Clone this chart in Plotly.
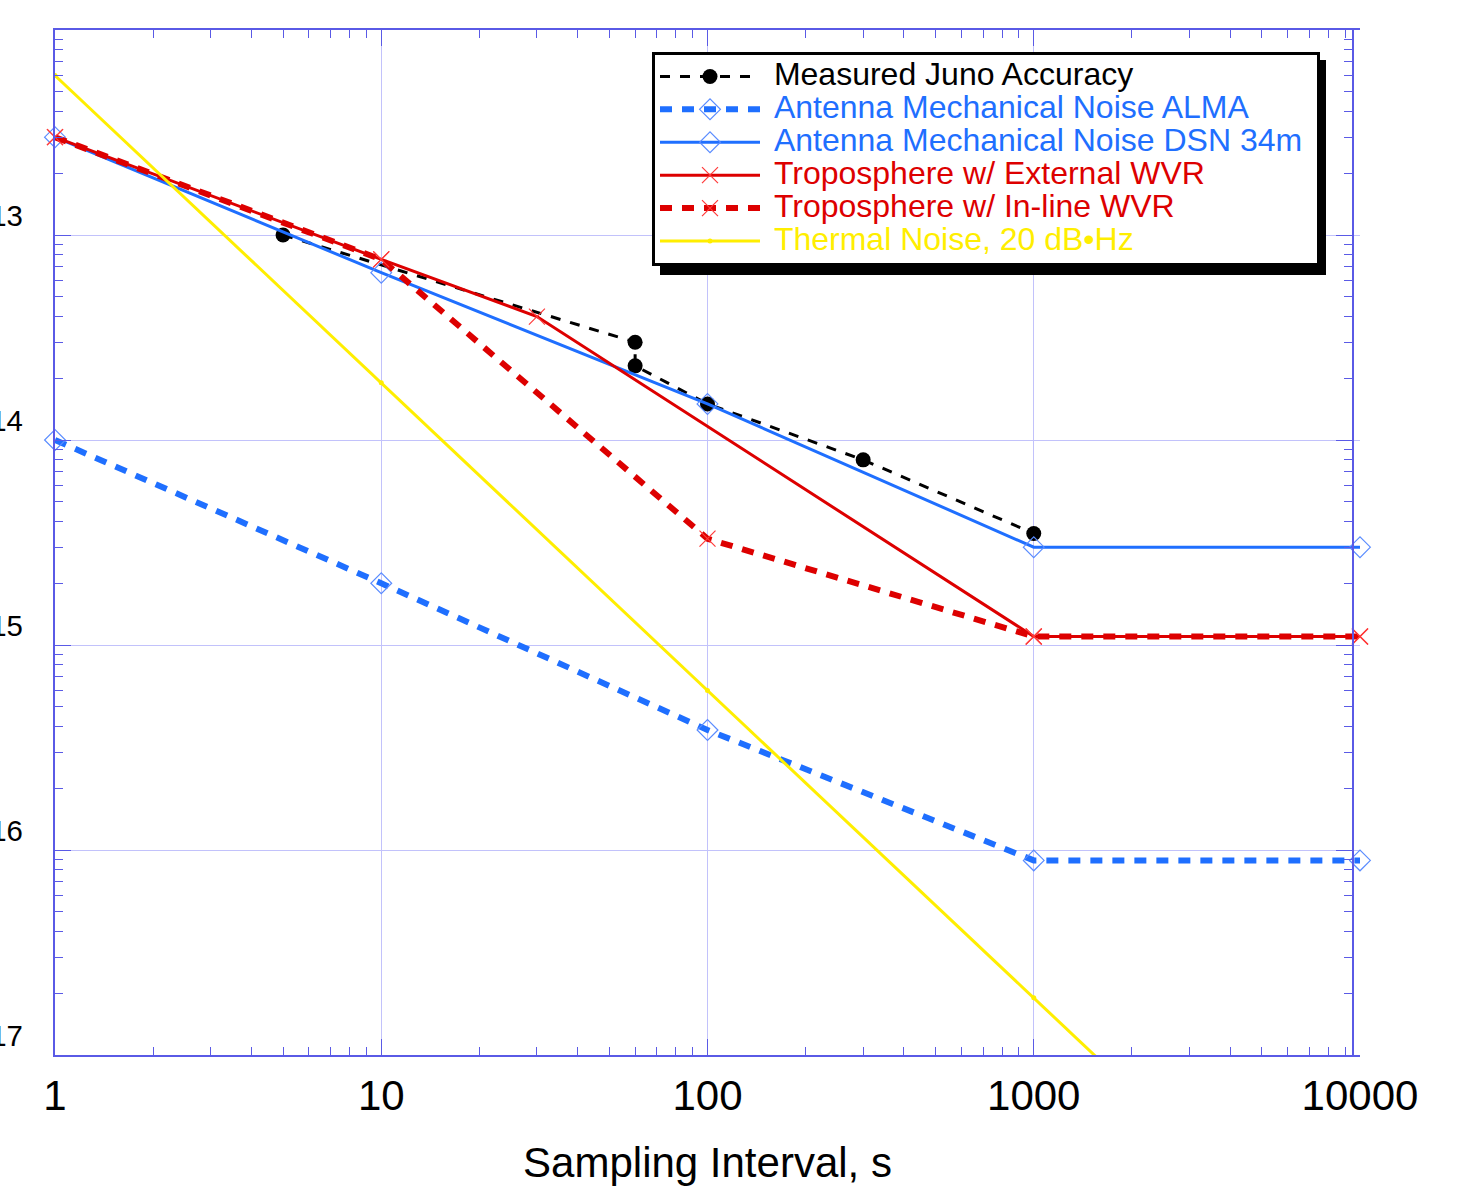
import plotly.graph_objects as go

# ---------------- data ----------------
tau_juno = [5, 60, 60, 100, 300, 1000]
adev_juno = [1.0e-13, 3.0e-14, 2.3e-14, 1.5e-14, 8.0e-15, 3.5e-15]

tau_alma = [1, 10, 100, 1000, 10000]
adev_alma = [1.0e-14, 2.0e-15, 3.85e-16, 8.9e-17, 8.9e-17]

tau_dsn = [1, 10, 100, 1000, 10000]
adev_dsn = [3.0e-13, 6.55e-14, 1.5e-14, 3.0e-15, 3.0e-15]

tau_ext = [1, 10, 30, 1000, 10000]
adev_ext = [3.0e-13, 7.6e-14, 4.0e-14, 1.1e-15, 1.1e-15]

tau_inl = [1, 10, 100, 1000, 10000]
adev_inl = [3.0e-13, 7.6e-14, 3.3e-15, 1.1e-15, 1.1e-15]

tau_th = [1, 10, 100, 1000, 10000]
adev_th = [6.0e-13, 1.9e-14, 6.0e-16, 1.9e-17, 6.0e-19]

x_tickvals = [1, 10, 100, 1000, 10000]
x_ticktext = ["1", "10", "100", "1000", "10000"]
y_tickvals = [1e-17, 1e-16, 1e-15, 1e-14, 1e-13]
y_ticktext = ["10<sup>-17</sup>", "10<sup>-16</sup>", "10<sup>-15</sup>",
              "10<sup>-14</sup>", "10<sup>-13</sup>"]

names = ["Measured Juno Accuracy", "Antenna Mechanical Noise ALMA",
         "Antenna Mechanical Noise DSN 34m", "Troposphere w/ External WVR",
         "Troposphere w/ In-line WVR", "Thermal Noise, 20 dB•Hz"]

# ---------------- styles ----------------
FONT = "Liberation Sans, Arial, Helvetica, sans-serif"
BLUE = "#1f6fff"
BLUE_MK = "#5a8cff"
RED = "#dd0000"
RED_MK = "#ff3a3a"
YEL = "#ffee00"
AX = "#5a5ae6"
GRID = "#c2c2fb"
NB = "\u00a0"


def lname(txt, col, tail=""):
    return f'<span style="font-size:32px;color:{col}">{NB}{txt}{tail}</span>'


fig = go.Figure()
fig.add_trace(go.Scatter(
    x=tau_juno, y=adev_juno, name=lname(names[0], "black"), mode="lines+markers",
    line=dict(color="black", width=3, dash="10px,10px"),
    marker=dict(symbol="circle", size=15, color="black"), cliponaxis=False))
fig.add_trace(go.Scatter(
    x=tau_alma, y=adev_alma, name=lname(names[1], BLUE), mode="lines+markers",
    line=dict(color=BLUE, width=6, dash="12px,10px"),
    marker=dict(symbol="diamond-open", size=16, color=BLUE_MK, line=dict(width=1.2)),
    cliponaxis=False))
fig.add_trace(go.Scatter(
    x=tau_dsn, y=adev_dsn, name=lname(names[2], BLUE, NB), mode="lines+markers",
    line=dict(color=BLUE, width=3),
    marker=dict(symbol="diamond-open", size=16, color=BLUE_MK, line=dict(width=1.2)),
    cliponaxis=False))
fig.add_trace(go.Scatter(
    x=tau_ext, y=adev_ext, name=lname(names[3], RED), mode="lines+markers",
    line=dict(color=RED, width=3),
    marker=dict(symbol="x-thin-open", size=16, color=RED_MK, line=dict(width=1.2, color=RED_MK)),
    cliponaxis=False))
fig.add_trace(go.Scatter(
    x=tau_inl, y=adev_inl, name=lname(names[4], RED), mode="lines+markers",
    line=dict(color=RED, width=6, dash="12px,10px"),
    marker=dict(symbol="x-thin-open", size=16, color=RED_MK, line=dict(width=1.2, color=RED_MK)),
    cliponaxis=False))
fig.add_trace(go.Scatter(
    x=tau_th, y=adev_th, name=lname(names[5], YEL), mode="lines+markers",
    line=dict(color=YEL, width=3),
    marker=dict(symbol="circle", size=5, color=YEL)))
# empty trace so that the right-hand frame axis is drawn
fig.add_trace(go.Scatter(x=[], y=[], yaxis="y2", showlegend=False, hoverinfo="skip"))

minor_x = [m * 10 ** e for e in range(0, 4) for m in range(2, 10)]
minor_y = [m * 10.0 ** e for e in range(-17, -12) for m in range(2, 10)]

PH = 1025.0
PW = 1305.0

fig.update_layout(
    width=1476, height=1191,
    margin=dict(l=55, r=116, t=30, b=136, autoexpand=False),
    paper_bgcolor="white", plot_bgcolor="white",
    font=dict(family=FONT, size=42, color="black"),
    showlegend=True,
    legend=dict(x=(652 - 55) / PW, y=1 - (52 - 30) / PH, xanchor="left", yanchor="top",
                bgcolor="white", bordercolor="black", borderwidth=3,
                font=dict(family=FONT, size=23, color="black"),
                itemwidth=100, traceorder="normal"),
    xaxis=dict(
        type="log", range=[0, 4], tickmode="array", tickvals=x_tickvals,
        ticktext=x_ticktext, ticks="inside", ticklen=16, tickwidth=1, tickcolor=AX,
        showline=True, linecolor=AX, linewidth=1.5, mirror="ticks",
        showgrid=True, gridcolor=GRID, gridwidth=1,
        zeroline=False, automargin=False, ticklabelstandoff=3,
        tickfont=dict(size=42, family=FONT, color="black"),
        title=dict(text="Sampling Interval, s", font=dict(size=42, family=FONT), standoff=29),
        minor=dict(tickmode="array", tickvals=minor_x, ticks="inside", ticklen=8,
                   tickwidth=1, tickcolor=AX, showgrid=False),
    ),
    yaxis=dict(
        type="log", range=[-17, -12], tickmode="array", tickvals=y_tickvals,
        ticktext=y_ticktext, ticks="inside", ticklen=16, tickwidth=1, tickcolor=AX,
        showline=True, linecolor=AX, linewidth=1.5, mirror=False,
        showgrid=True, gridcolor=GRID, gridwidth=1,
        zeroline=False, automargin=False, ticklabelstandoff=22, ticklabelshift=-6,
        tickfont=dict(size=42, family=FONT, color="black"),
        minor=dict(tickmode="array", tickvals=minor_y, ticks="inside", ticklen=8,
                   tickwidth=1, tickcolor=AX, showgrid=False),
    ),
    yaxis2=dict(
        type="log", range=[-17, -12], overlaying="y", anchor="free", side="right",
        position=0.9946, tickmode="array", tickvals=y_tickvals, showticklabels=False,
        ticks="inside", ticklen=16, tickwidth=1, tickcolor=AX,
        showline=True, linecolor=AX, linewidth=1.5, showgrid=False, zeroline=False,
        automargin=False,
        minor=dict(tickmode="array", tickvals=minor_y, ticks="inside", ticklen=8,
                   tickwidth=1, tickcolor=AX, showgrid=False),
    ),
    shapes=[dict(type="rect", xref="paper", yref="paper",
                 x0=(660 - 55) / PW, x1=(1326 - 55) / PW,
                 y0=1 - (275 - 30) / PH, y1=1 - (60 - 30) / PH,
                 fillcolor="black", line=dict(width=0), layer="above")],
)

fig.write_html("out.html", config={"displayModeBar": False},
               post_script="document.body.style.margin='0';")
